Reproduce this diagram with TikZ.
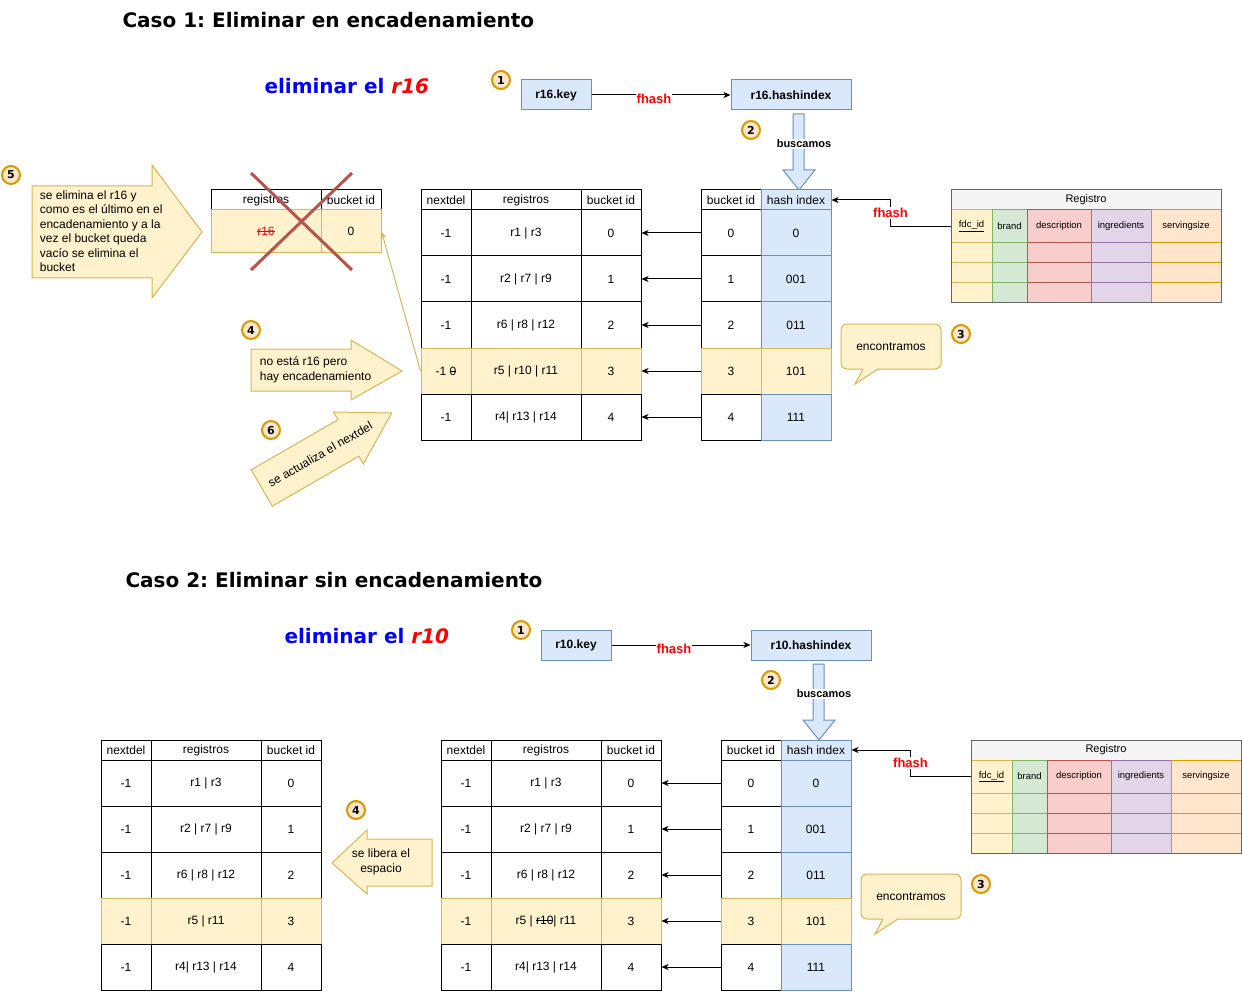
\documentclass[tikz,border=0pt]{standalone}
\usepackage{fontspec}
\setmainfont{Liberation Sans}
\newfontfamily\verd{DejaVu Sans}
\usetikzlibrary{arrows.meta}
\frenchspacing
\newcommand\tachado[1]{\leavevmode\setbox0\hbox{#1}\rlap{\raisebox{0.3em}{\rule{\wd0}{0.08em}}}\box0}
\definecolor{blueF}{HTML}{DAE8FC}
\definecolor{blueD}{HTML}{6C8EBF}
\definecolor{ylwF}{HTML}{FFF2CC}
\definecolor{ylwD}{HTML}{D6B656}
\definecolor{orgF}{HTML}{FFE6CC}
\definecolor{orgD}{HTML}{D79B00}
\definecolor{grnF}{HTML}{D5E8D4}
\definecolor{grnD}{HTML}{82B366}
\definecolor{redF}{HTML}{F8CECC}
\definecolor{redD}{HTML}{B85450}
\definecolor{purF}{HTML}{E1D5E7}
\definecolor{purD}{HTML}{9673A6}
\definecolor{grayF}{HTML}{F5F5F5}
\definecolor{grayD}{HTML}{666666}
\definecolor{fred}{HTML}{FF0000}
\definecolor{fblue}{HTML}{0000FF}
\begin{document}
\begin{tikzpicture}[x=1pt,y=-1pt,line width=1pt]
  \tikzstyle{title} = [inner sep=0pt, font=\verd\bfseries\fontsize{20}{24}\selectfont]
  \tikzstyle{num} = [circle, draw=orgD, fill=orgF, line width=2pt, minimum size=18pt, inner sep=0pt, font=\verd\bfseries\fontsize{11}{11}\selectfont]
  \tikzstyle{keybox} = [rectangle, draw=blueD, fill=blueF, minimum height=30pt, font=\bfseries\fontsize{12}{14}\selectfont]
  \tikzstyle{cell} = [rectangle, draw=black, fill=white, minimum height=46pt, inner sep=0pt, text centered, font=\fontsize{12}{14}\selectfont]
  \tikzstyle{hcell} = [cell, fill=ylwF, draw=ylwD]
  \tikzstyle{hashcell} = [fill=blueF, draw=blueD]
  \tikzstyle{head} = [cell, minimum height=20pt]
  \tikzstyle{arrow} = [-{Stealth[length=7pt,width=6pt,inset=2pt]}]
  \tikzstyle{yarrow} = [arrow, draw=ylwD]
  \tikzstyle{fhash} = [fill=white, inner sep=1pt, text=fred, font=\bfseries\fontsize{13}{15}\selectfont]
  \tikzstyle{bigarrow} = [draw=blueD, fill=blueF]
  \tikzstyle{block} = [draw=ylwD, fill=ylwF]
  \tikzstyle{note} = [font=\fontsize{12}{14.5}\selectfont]
  \tikzstyle{callout} = [rectangle, rounded corners=6pt, draw=ylwD, fill=ylwF, minimum width=100pt, minimum height=45pt, font=\fontsize{12}{14}\selectfont]
  \tikzstyle{regcell} = [rectangle, inner sep=0pt, font=\fontsize{9.5}{11}\selectfont]
  \tikzstyle{reghead} = [rectangle, draw=grayD, fill=grayF, minimum width=270pt, minimum height=20pt, font=\fontsize{11}{13}\selectfont]
  \tikzstyle{cross} = [draw=redD, line width=3pt]

  \useasboundingbox (0,0) rectangle (1242,992);

  \node (t1) [title, anchor=west] at (122,20) {Caso 1: Eliminar en encadenamiento};
  \node (t2) [title, anchor=west] at (125,580) {Caso 2: Eliminar sin encadenamiento};

  % parte comun de los dos casos
  \foreach \c/\dx/\dy/\rk/\nd/\rg in {1/0/0/r16/{-1 \tachado{0}}/{r5 | r10 | r11}, 2/20/550/r10/{-1}/{r5 | \tachado{r10} | r11}} {
  \begin{scope}[shift={(\dx,\dy)}]
    \node (elim\c) [title, anchor=west] at (264,86) {\textcolor{fblue}{eliminar el }\textcolor{fred}{\itshape\rk}};
    \node (n1\c) [num] at (501,80) {1};
    \node (key\c) [keybox, minimum width=70pt] at (556,95) {\rk.key};
    \node (hix\c) [keybox, minimum width=120pt] at (791,95) {\rk.hashindex};
    \draw [arrow] (key\c) -- node[fhash, pos=0.45, yshift=-4pt] {fhash} (hix\c);
    \node (n2\c) [num] at (751,130) {2};
    \draw [bigarrow] (793,114) -- (804,114) -- (804,170) -- (815,170) -- (799,190) -- (783,170) -- (793,170) -- cycle;
    \node (bus\c) [fill=white, inner sep=1pt, font=\bfseries\fontsize{11}{13}\selectfont] at (804,144) {buscamos};

    % tabla hash
    \node (hbh\c) [head, minimum width=60pt] at (731,200) {bucket id};
    \node (hhh\c) [head, hashcell, minimum width=70pt] at (796,200) {hash index};
    \foreach \i/\hx/\st/\hs in {0/0/cell/hashcell, 1/001/cell/hashcell, 2/011/cell/hashcell, 3/101/hcell/hcell, 4/111/cell/hashcell} {
      \node (hb\c-\i) [\st, minimum width=60pt] at (731,{233+46*\i}) {\i};
      \node (hh\c-\i) [cell, \hs, minimum width=70pt] at (796,{233+46*\i}) {\hx};
    }

    % tabla de buckets
    \node (bkh\c-a) [head, minimum width=50pt] at (446,200) {nextdel};
    \node (bkh\c-b) [head, minimum width=110pt] at (526,200) {registros};
    \node (bkh\c-c) [head, minimum width=60pt] at (611,200) {bucket id};
    \foreach \i/\nx/\rx/\st in {0/-1/r1 | r3/cell, 1/-1/r2 | r7 | r9/cell, 2/-1/r6 | r8 | r12/cell, 3/\nd/\rg/hcell, 4/-1/r4| r13 | r14/cell} {
      \node (bk\c-\i-a) [\st, minimum width=50pt] at (446,{233+46*\i}) {\nx};
      \node (bk\c-\i-b) [\st, minimum width=110pt] at (526,{233+46*\i}) {\rx};
      \node (bk\c-\i-c) [\st, minimum width=60pt] at (611,{233+46*\i}) {\i};
    }
    \foreach \i in {0,...,4}
      \draw [arrow] (hb\c-\i.west) -- (bk\c-\i-c.east);

    % tabla Registro
    \node (reg\c) [reghead] at (1086,200) {Registro};
    \foreach \x/\w/\fc/\dc/\txt [count=\j] in {971.5/41/ylwF/ylwD/\underline{fdc\_id}, 1009.5/35/grnF/grnD/brand, 1059/64/redF/redD/description, 1121/60/purF/purD/ingredients, 1186/70/orgF/orgD/servingsize} {
      \node (rg\c-\j) [regcell, fill=\fc, draw=\dc, minimum width=\w, minimum height=33] at (\x,226.5) {\txt};
      \foreach \yy in {253,273,293}
        \node (rg\c-\j-\yy) [regcell, fill=\fc, draw=\dc, minimum width=\w, minimum height=20] at (\x,\yy) {};
    }
    \draw [grayD] (951,190) rectangle (1221,303);
    \draw [arrow] (rg\c-1.west) -- ++(-60,0) |- node[fhash, pos=0.25] {fhash} (hhh\c.east);

    \node (enc\c) [callout] at (891,346.5) {encontramos};
    \fill [ylwF] (863,368) -- (855,384) -- (878,368) -- cycle;
    \draw [ylwD] (863,369) -- (855,384) -- (878,369);
    \node (n3\c) [num] at (961,334) {3};
  \end{scope}
  }

  % caso 1: bucket eliminado
  \node (dh1) [head, minimum width=110pt] at (266,200) {registros};
  \node (dh2) [head, minimum width=60pt] at (351,200) {bucket id};
  \node (dr1) [hcell, minimum width=110pt, minimum height=43pt] at (266,231.5) {\color{fred}\tachado{r16}};
  \node (dr2) [hcell, minimum width=60pt, minimum height=43pt] at (351,231.5) {0};
  \draw [cross] (251,173) -- (352,270);
  \draw [cross] (352,173) -- (251,270);
  \draw [yarrow] (bk1-3-a.west) -- (dr2.east);

  \draw [block] (32,186) -- (152,186) -- (152,165) -- (202,232) -- (152,298) -- (152,278) -- (32,278) -- cycle;
  \node (txt5) [note, anchor=west, align=left] at (36,231) {se elimina el r16 y\\como es el último en el\\encadenamiento y a la\\vez el bucket queda\\vacío se elimina el\\bucket};
  \node (n5) [num] at (11,175) {5};

  \draw [block] (251,349) -- (351,349) -- (351,340) -- (402,371) -- (351,400) -- (351,391) -- (251,391) -- cycle;
  \node (txt4) [note, anchor=west, align=left] at (256,370) {no está r16 pero\\hay encadenamiento};
  \node (n4) [num] at (251,330) {4};

  \begin{scope}[shift={(326.7,450.5)}, rotate=30]
    \draw [block] (-75,-21) -- (25,-21) -- (25,-30) -- (75,0) -- (25,30) -- (25,21) -- (-75,21) -- cycle;
    \node (txt6) [note, rotate=30] at (-7.5,0) {se actualiza el nextdel};
  \end{scope}
  \node (n6) [num] at (271,430) {6};

  % caso 2: tabla resultante
  \node (rh-a) [head, minimum width=50pt] at (126,750) {nextdel};
  \node (rh-b) [head, minimum width=110pt] at (206,750) {registros};
  \node (rh-c) [head, minimum width=60pt] at (291,750) {bucket id};
  \foreach \i/\nx/\rx/\st in {0/-1/r1 | r3/cell, 1/-1/r2 | r7 | r9/cell, 2/-1/r6 | r8 | r12/cell, 3/-1/r5 | r11/hcell, 4/-1/r4| r13 | r14/cell} {
    \node (rs-\i-a) [\st, minimum width=50pt] at (126,{783+46*\i}) {\nx};
    \node (rs-\i-b) [\st, minimum width=110pt] at (206,{783+46*\i}) {\rx};
    \node (rs-\i-c) [\st, minimum width=60pt] at (291,{783+46*\i}) {\i};
  }
  \draw [block] (432,839) -- (367,839) -- (367,830) -- (332,863) -- (367,894) -- (367,886) -- (432,886) -- cycle;
  \node (txt42) [note, align=center] at (381,862) {se libera el\\espacio};
  \node (n42) [num] at (356,810) {4};
\end{tikzpicture}
\end{document}
